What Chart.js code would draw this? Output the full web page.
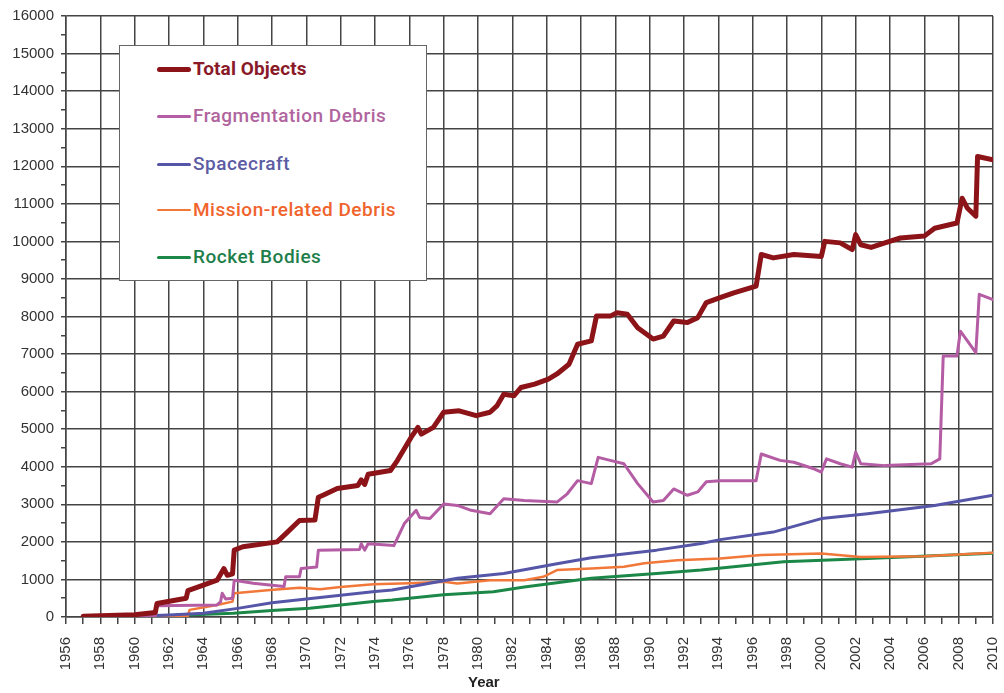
<!DOCTYPE html>
<html>
<head>
<meta charset="utf-8">
<script src="https://cdn.jsdelivr.net/npm/chart.js@4.4.1/dist/chart.umd.min.js"></script>
<style>
  body { margin: 0; background: #fff; font-family: 'Liberation Sans', Arial, sans-serif; }
  #wrap { position: relative; width: 1004px; height: 693px; }
  #legend {
    position: absolute; left: 119px; top: 45px; width: 306px; height: 234px;
    background: #fff; border: 1px solid #666;
  }
  .item {
    position: absolute; left: 37px; display: flex; align-items: center;
    font-family: Roboto, 'Liberation Sans', sans-serif; font-weight: 500; font-size: 19px; line-height: 20px;
    letter-spacing: 0.5px;
  }
  .item.first { font-weight: 700; letter-spacing: 0.1px; }
  .item span.swatch { display: inline-block; width: 34px; border-radius: 3px; margin-right: 2px; }
  #xtitle { position: absolute; left: 468px; top: 673px; font-weight: bold; font-size: 15px; color: #222; }
</style>
</head>
<body>
<div id="wrap">
  <canvas id="chart" width="1004" height="693"></canvas>
  <div id="legend"></div>
  <div id="xtitle">Year</div>
</div>
<script>
// Total Objects
const totalX = [1957, 1960, 1961.2, 1961.3, 1963.0, 1963.1, 1964.0, 1964.8, 1965.2, 1965.4, 1965.7, 1965.8, 1966.3, 1968.3, 1968.9, 1969.6, 1970.5, 1970.7, 1971.0, 1971.8, 1973.0, 1973.2, 1973.4, 1973.6, 1974.9, 1975.3, 1976.1, 1976.5, 1976.7, 1977.4, 1978.0, 1978.9, 1979.9, 1980.7, 1981.1, 1981.5, 1982.1, 1982.5, 1983.3, 1984.1, 1984.6, 1985.3, 1985.8, 1986.6, 1986.9, 1987.7, 1988.1, 1988.7, 1989.3, 1990.2, 1990.8, 1991.4, 1992.2, 1992.8, 1993.3, 1994.1, 1994.9, 1996.2, 1996.5, 1997.2, 1998.4, 2000.0, 2000.2, 2001.1, 2001.8, 2002.0, 2002.3, 2002.9, 2003.7, 2004.6, 2006.0, 2006.6, 2007.9, 2008.2, 2008.5, 2009.0, 2009.1, 2010.0];
const totalY = [20, 60, 120, 360, 500, 700, 850, 980, 1290, 1110, 1150, 1780, 1870, 2000, 2260, 2570, 2580, 3190, 3250, 3420, 3500, 3650, 3530, 3800, 3900, 4165, 4780, 5050, 4870, 5050, 5450, 5490, 5360, 5450, 5620, 5930, 5890, 6110, 6200, 6330, 6470, 6730, 7260, 7350, 8010, 8010, 8100, 8060, 7700, 7400, 7480, 7880, 7840, 7970, 8370, 8500, 8630, 8810, 9650, 9560, 9650, 9600, 10000, 9960, 9780, 10180, 9910, 9840, 9960, 10090, 10140, 10350, 10490, 11150, 10890, 10670, 12260, 12170];

// Fragmentation Debris
const fragX = [1957, 1961.2, 1961.3, 1964.8, 1965.0, 1965.1, 1965.3, 1965.7, 1965.8, 1966.9, 1968.7, 1968.8, 1969.6, 1969.7, 1970.6, 1970.7, 1973.1, 1973.2, 1973.4, 1973.6, 1974.9, 1975.1, 1975.7, 1976.4, 1976.6, 1977.2, 1978.0, 1978.8, 1979.6, 1980.7, 1981.5, 1982.7, 1984.6, 1985.2, 1985.8, 1986.6, 1987.0, 1987.7, 1988.5, 1989.3, 1990.2, 1990.8, 1991.4, 1992.2, 1992.8, 1993.3, 1994.1, 1996.2, 1996.5, 1997.6, 1998.4, 1999.6, 2000.0, 2000.3, 2001.1, 2001.8, 2002.0, 2002.3, 2003.7, 2006.4, 2006.9, 2007.1, 2007.9, 2008.1, 2009.0, 2009.2, 2010.0];
const fragY = [0, 10, 300, 320, 400, 630, 480, 500, 980, 900, 810, 1070, 1070, 1290, 1330, 1780, 1800, 1950, 1780, 1950, 1910, 1900, 2480, 2840, 2650, 2620, 3010, 2970, 2840, 2750, 3150, 3100, 3060, 3280, 3630, 3550, 4250, 4170, 4080, 3550, 3060, 3100, 3410, 3240, 3330, 3600, 3630, 3630, 4340, 4170, 4120, 3940, 3860, 4210, 4080, 3990, 4390, 4080, 4030, 4080, 4210, 6950, 6950, 7610, 7040, 8590, 8450];

// Spacecraft
const scX = [1957, 1960, 1962, 1964, 1966, 1968, 1970, 1972, 1974, 1975, 1978.8, 1981.5, 1984.6, 1986.6, 1990.4, 1993.0, 1994.1, 1997.2, 2000.0, 2002.7, 2006.6, 2010];
const scY = [0, 20, 50, 100, 230, 380, 480, 580, 680, 720, 1030, 1160, 1420, 1580, 1780, 1955, 2060, 2260, 2620, 2750, 2970, 3240];

// Mission-related Debris
const mrdX = [1957, 1963.1, 1963.2, 1964.8, 1965.7, 1965.8, 1967.9, 1969.6, 1970.8, 1972.0, 1973.9, 1976, 1978.0, 1978.8, 1980.7, 1982.7, 1983.8, 1984.6, 1986.6, 1988.5, 1989.7, 1991.6, 1994.1, 1996.5, 2000.0, 2002.3, 2006, 2010];
const mrdY = [10, 30, 190, 320, 410, 630, 720, 780, 740, 800, 870, 900, 940, 890, 980, 980, 1070, 1250, 1290, 1340, 1430, 1510, 1560, 1650, 1690, 1600, 1620, 1710];

// Rocket Bodies
const rbX = [1957, 1961, 1963, 1965.75, 1968, 1970.2, 1972, 1973.9, 1975, 1978, 1980.9, 1982.7, 1986.6, 1990.4, 1993.0, 1997.8, 2002.7, 2010];
const rbY = [5, 20, 50, 100, 170, 230, 320, 410, 450, 590, 670, 800, 1030, 1160, 1250, 1470, 1560, 1700];

const yearMin = 1956, yearMax = 2010;
const countMax = 16000;

const seriesNames = ['Total Objects', 'Fragmentation Debris', 'Spacecraft', 'Mission-related Debris', 'Rocket Bodies'];
const seriesColors = ['#8c1418', '#b45ca4', '#5656a8', '#f2783a', '#1c8848'];
const textColors = ['#8a1a28', '#b0649e', '#5c5ca4', '#f0642c', '#1e7e4a'];
const seriesWidths = [5, 3, 3, 2.5, 3];
const seriesX = [totalX, fragX, scX, mrdX, rbX];
const seriesY = [totalY, fragY, scY, mrdY, rbY];

const gridColor = '#444';

const datasets = seriesNames.map((name, i) => ({
  label: name,
  data: seriesX[i].map((x, j) => ({ x: x, y: seriesY[i][j] })),
  borderColor: seriesColors[i],
  borderWidth: seriesWidths[i],
  pointRadius: 0,
  tension: 0,
  borderJoinStyle: 'round',
  borderCapStyle: 'round',
  fill: false,
}));

new Chart(document.getElementById('chart'), {
  type: 'line',
  data: { datasets: datasets },
  options: {
    responsive: false,
    animation: false,
    layout: { padding: { top: 14, right: 11, left: 0, bottom: 0 } },
    plugins: { legend: { display: false }, tooltip: { enabled: false } },
    scales: {
      x: {
        type: 'linear',
        min: yearMin,
        max: yearMax,
        afterFit: (s) => { s.height = 76; s.paddingLeft = 0; s.paddingRight = 0; },
        border: { color: gridColor, width: 1.5 },
        grid: {
          color: (c) => (c.tick.value % 2 === 0 ? gridColor : 'rgba(0,0,0,0)'),
          tickColor: gridColor,
          lineWidth: 1.5,
          tickLength: 7,
        },
        ticks: {
          stepSize: 1,
          autoSkip: false,
          minRotation: 90,
          maxRotation: 90,
          padding: 13,
          color: '#333',
          font: { family: 'Liberation Sans', size: 15 },
          callback: (v) => (v % 2 === 0 ? String(v) : ''),
        },
      },
      y: {
        min: 0,
        max: countMax,
        afterFit: (s) => { s.width = 66; },
        border: { color: gridColor, width: 1.5 },
        grid: {
          color: (c) => (c.tick.value % 1000 === 0 ? gridColor : 'rgba(0,0,0,0)'),
          tickColor: gridColor,
          lineWidth: 1.5,
          tickLength: 5,
        },
        ticks: {
          stepSize: 500,
          autoSkip: false,
          padding: 7,
          color: '#333',
          font: { family: 'Liberation Sans', size: 15 },
          callback: (v) => (v % 1000 === 0 ? String(v) : ''),
        },
      },
    },
  },
});

// legend box drawn over the plot, like the original
const legend = document.getElementById('legend');
const rowCenters = [69, 116, 164, 210, 257];
seriesNames.forEach((name, i) => {
  const item = document.createElement('div');
  item.className = i === 0 ? 'item first' : 'item';
  item.style.top = (rowCenters[i] - 46 - 10) + 'px';
  item.style.color = textColors[i];
  const sw = document.createElement('span');
  sw.className = 'swatch';
  sw.style.height = seriesWidths[i] + 'px';
  sw.style.background = seriesColors[i];
  item.appendChild(sw);
  item.appendChild(document.createTextNode(name));
  legend.appendChild(item);
});
</script>
</body>
</html>
